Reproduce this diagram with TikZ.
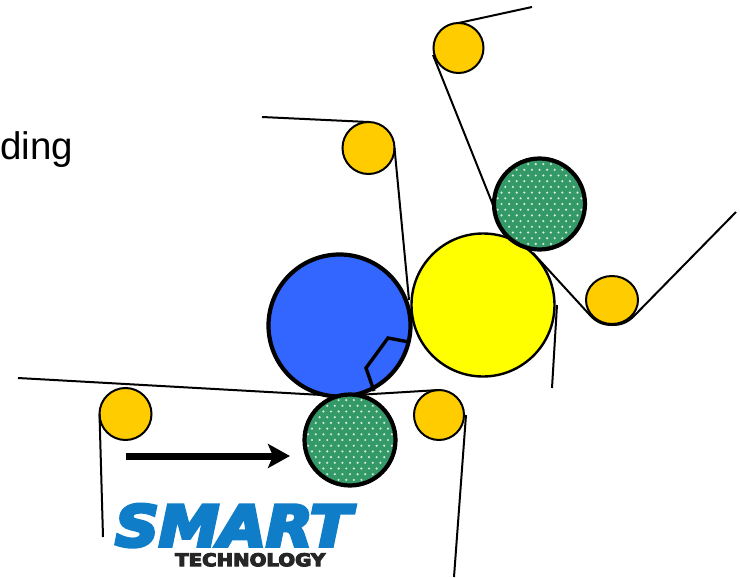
\documentclass[tikz,border=0pt]{standalone}
\usepackage{fontspec}
\usepackage{graphicx}
\usetikzlibrary{arrows.meta,shapes.geometric}
\setmainfont{Liberation Sans}
\newfontfamily\logofont{DejaVu Sans}[BoldFeatures={FakeBold=6},BoldItalicFeatures={FakeBold=6}]
\definecolor{rollorange}{HTML}{FFCC00}
\definecolor{rollgreen}{HTML}{339966}
\definecolor{rollblue}{HTML}{3366FF}
\definecolor{rollyellow}{HTML}{FFFF00}
\definecolor{logoblue}{HTML}{0F7DC8}
\tikzset{
  roll/.style={circle,draw=black,inner sep=0pt,outer sep=0pt},
  orangeroll/.style={roll,fill=rollorange,line width=2pt,minimum size=#1},
  greenroll/.style={roll,fill=rollgreen,minimum size=91pt},
  greenrim/.style={roll,line width=4.2pt,minimum size=91pt},
  web/.style={draw=black,line width=2pt},
  thick web/.style={draw=black,line width=3.4pt,line join=miter},
}
\newcommand{\rolldots}[2]{%
  \begin{scope}
    \clip (#1,#2) circle (44.5);
    \foreach \i in {-7,...,7}{
      \foreach \j in {-8,...,8}{
        \pgfmathsetmacro{\dx}{\i*7.6+mod(abs(\j),2)*3.8}
        \pgfmathsetmacro{\dy}{\j*5.7}
        \fill[white,opacity=.8] (#1+\dx,#2+\dy) circle (1.2);
      }
    }
  \end{scope}}
\begin{document}
\begin{tikzpicture}[x=1pt,y=-1pt]
\useasboundingbox (0,0) rectangle (740,578);
% free ends
\coordinate (a1) at (532,7);
\coordinate (a2) at (262,117);
\coordinate (a3) at (18,378);
\coordinate (a4) at (103,537);
\coordinate (a5) at (454,577);
\coordinate (a6) at (736,212);
\coordinate (a7) at (552,388);
\coordinate (a8) at (557,305);
\coordinate (a9) at (126,456);
\coordinate (a10) at (290,456);
\coordinate (t1) at (340,396);
\coordinate (k1) at (409,342);
\coordinate (k2) at (388,338);
\coordinate (k3) at (366,368);
\coordinate (k4) at (374,391);
\coordinate (bend) at (612,325);
\coordinate (p1) at (433,55);
\coordinate (p2) at (493,205);
\coordinate (p3) at (409,300);
\coordinate (p4) at (533,253);
\coordinate (p5) at (588,313);
\coordinate (p6) at (634,316);
% webs behind rolls
\node[orangeroll=50pt] (otop) at (458.5,48) {};
\node[orangeroll=52pt] (omid) at (368.5,148) {};
\node[orangeroll=50pt] (orb) at (439,415) {};
\node[orangeroll=52pt] (olb) at (125.5,414) {};
\node[ellipse,draw=black,fill=rollorange,line width=2pt,inner sep=0pt,outer sep=0pt,minimum width=52pt,minimum height=48pt] (orr) at (612,300) {};
\draw[web] (otop.north) -- (a1);
\draw[web] (p1) -- (p2);
\draw[web] (a2) -- (omid.north);
\draw[web] (omid.east) -- (p3);
\draw[web] (olb.west) -- (a4);
\draw[web] ([xshift=2pt]orb.east) -- (a5);
\draw[web] (p4) -- (p5) to[out=-50,in=180] (bend) to[out=0,in=225] (p6) -- (a6);
\draw[web] (a8) -- (a7);
% main rolls
\node[roll,fill=rollyellow,line width=2.4pt,minimum size=143pt] (yel) at (483,305) {};
\node[roll,fill=rollblue,line width=4.2pt,minimum size=142pt] (blu) at (339.5,325.5) {};
\draw[thick web] (k1) -- (k2) -- (k3) -- (k4);
\draw[web] (a3) -- (t1) -- (orb.north);
\node[greenroll] (gtop) at (539.5,204) {};
\rolldots{539.5}{204}
\node[greenrim] (gtoprim) at (539.5,204) {};
\node[greenroll] (gbot) at (350,440) {};
\rolldots{350}{440}
\node[greenrim] (gbotrim) at (350,440) {};
% arrow
\draw[line width=7pt,-{Stealth[length=22pt,width=24pt,inset=5pt]}] (a9) -- (a10);
% text
\node[anchor=base west,inner sep=0pt,font=\fontsize{38.5}{38.5}\selectfont] (ding) at (0,159) {ding};
% logo
\node[anchor=north west,inner sep=0pt,text=logoblue] (smart) at (115,504)
  {\resizebox{236pt}{42pt}{\logofont\bfseries\itshape SMART}};
\node[anchor=north west,inner sep=0pt,text=black!85] (tech) at (175,553)
  {\resizebox{150pt}{13pt}{\logofont\bfseries TECHNOLOGY}};
\end{tikzpicture}
\end{document}
